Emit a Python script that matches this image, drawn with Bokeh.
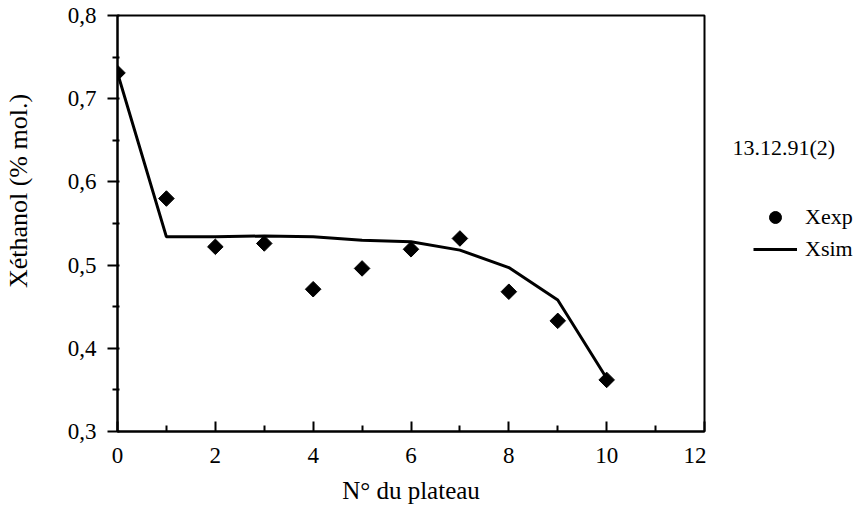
from bokeh.plotting import figure
from bokeh.layouts import row
from bokeh.models import FixedTicker, Legend, LegendItem, Label, ColumnDataSource, Range1d
from bokeh.embed import file_html
from bokeh.resources import INLINE
import math

# Data
plateau = [0, 1, 2, 3, 4, 5, 6, 7, 8, 9, 10]
x_exp = [0.731, 0.580, 0.522, 0.526, 0.471, 0.496, 0.519, 0.532, 0.468, 0.433, 0.362]
x_sim = [0.731, 0.534, 0.534, 0.535, 0.534, 0.530, 0.528, 0.518, 0.497, 0.458, 0.364]

x_ticks = [0, 2, 4, 6, 8, 10, 12]
x_minor = [1, 3, 5, 7, 9, 11]
y_ticks = [0.3, 0.4, 0.5, 0.6, 0.7, 0.8]
y_minor = [0.35, 0.45, 0.55, 0.65, 0.75]
y_tick_labels = ["0,3", "0,4", "0,5", "0,6", "0,7", "0,8"]

FONT = "Liberation Serif"
H = 512

p = figure(width=706, height=H, output_backend="svg", toolbar_location=None,
           x_range=Range1d(0, 12), y_range=Range1d(0.3, 0.8),
           min_border_left=116, min_border_right=2, min_border_top=15, min_border_bottom=81)
p.grid.visible = False
p.outline_line_color = "black"
p.outline_line_width = 2

src = ColumnDataSource(dict(x=plateau, exp=x_exp, sim=x_sim))
p.line("x", "sim", source=src, line_color="black", line_width=3)
p.scatter("x", "exp", source=src, marker="square", angle=math.pi / 4, size=11,
          fill_color="black", line_color="black")

xa = p.xaxis[0]
xa.ticker = FixedTicker(ticks=x_ticks, minor_ticks=x_minor)
xa.axis_label = "N° du plateau"
ya = p.yaxis[0]
ya.ticker = FixedTicker(ticks=y_ticks, minor_ticks=y_minor)
ya.major_label_overrides = {t: l for t, l in zip(y_ticks, y_tick_labels)}
ya.axis_label = "\u00a0" * 10 + "Xéthanol (% mol.)"

for ax in (xa, ya):
    ax.axis_line_width = 2
    ax.major_tick_line_width = 2
    ax.minor_tick_line_width = 2
    ax.major_label_text_font = FONT
    ax.major_label_text_font_size = "23px"
    ax.major_label_text_color = "black"
    ax.axis_label_text_font = FONT
    ax.axis_label_text_font_size = "25px"
    ax.axis_label_text_font_style = "normal"
    ax.axis_label_text_color = "black"
ya.axis_label_text_font_size = "26px"

xa.major_tick_in = 10
xa.major_tick_out = 0
xa.minor_tick_in = 6
xa.minor_tick_out = 0
xa.major_label_standoff = 16
xa.axis_label_standoff = 11

ya.major_tick_in = 2
ya.major_tick_out = 10
ya.minor_tick_in = 2
ya.minor_tick_out = 5
ya.major_label_standoff = 11
ya.axis_label_standoff = 32

# side panel holding the annotation and the legend (its frame is aligned with p's frame)
q = figure(width=150, height=H, output_backend="svg", toolbar_location=None,
           x_range=Range1d(0, 12), y_range=Range1d(0.3, 0.8),
           x_axis_location=None, y_axis_location=None,
           min_border_left=0, min_border_right=0, min_border_top=15, min_border_bottom=81)
q.grid.visible = False
q.outline_line_color = None
dot = q.scatter("x", "exp", source=src, marker="circle", size=13,
                fill_color="black", line_color="black", visible=False)
dash = q.line("x", "sim", source=src, line_color="black", line_width=3, visible=False)

legend = Legend(items=[LegendItem(label="Xexp", renderers=[dot]),
                       LegendItem(label="Xsim", renderers=[dash])],
                location=(47, 167), padding=0, margin=0, spacing=2,
                glyph_width=44, glyph_height=30, label_standoff=8,
                label_text_font=FONT, label_text_font_size="22px",
                label_text_color="black",
                border_line_color=None, background_fill_alpha=0)
q.add_layout(legend)
q.add_layout(Label(x=26, y=284, x_units="screen", y_units="screen", text="13.12.91(2)",
                   text_font=FONT, text_font_size="22px", text_baseline="middle",
                   text_color="black"))

layout = row(p, q)
open("out.html", "w").write(file_html(layout, INLINE))
